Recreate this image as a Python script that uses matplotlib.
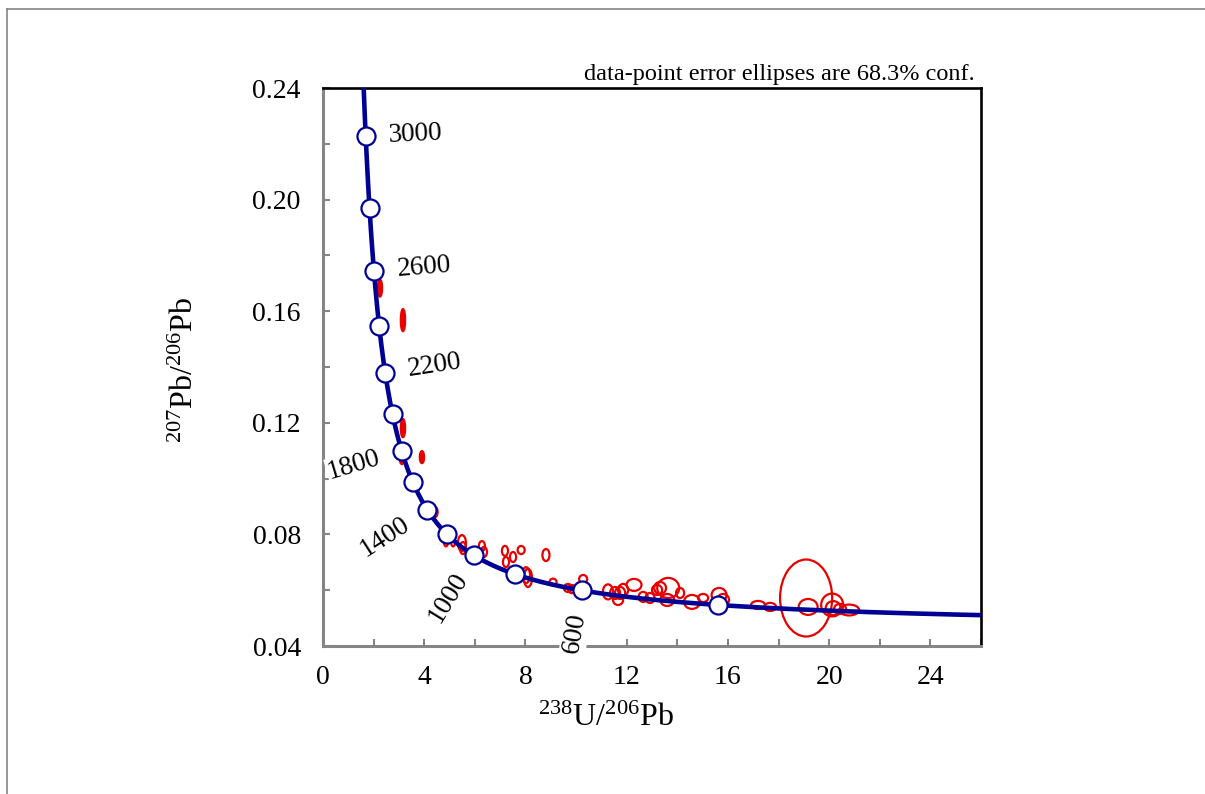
import numpy as np
import matplotlib
matplotlib.use("Agg")
import matplotlib.pyplot as plt
from matplotlib.patches import Ellipse
from matplotlib.lines import Line2D
from matplotlib.ticker import MultipleLocator, FixedLocator

plt.rcParams['font.family'] = ['Liberation Serif', 'DejaVu Serif']
plt.rcParams['mathtext.fontset'] = 'custom'
plt.rcParams['mathtext.rm'] = 'Liberation Serif'
plt.rcParams['mathtext.it'] = 'Liberation Serif:italic'

# decay constants (1/yr) and present-day 238U/235U
lambda238 = 1.55125e-10
lambda235 = 9.8485e-10
u_ratio = 137.88

# concordia age markers (Ma) and which of them get a label
marker_ages = [400, 600, 800, 1000, 1200, 1400, 1600, 1800, 2000, 2200, 2400, 2600, 2800, 3000]
label_ages = [600, 1000, 1400, 1800, 2200, 2600, 3000]
label_side = [-1, -1, -1, -1, 1, 1, 1]   # +1 right of curve, -1 left/below

# data-point error ellipses: centre, full width (238U/206Pb), full height (207Pb/206Pb)
ell_x = [2.25, 3.16, 3.16, 3.12, 3.91,
         4.43, 4.86, 5.14, 5.49, 5.53, 6.28, 6.36, 7.19, 7.23, 7.51, 7.83, 8.81, 8.02, 8.10,
         9.09, 9.68, 9.84, 10.28, 11.26, 11.54, 11.74, 11.86, 11.66, 12.29, 12.65, 12.92,
         13.20, 13.32, 13.64, 13.60, 14.11, 14.58, 15.02, 15.65, 15.81, 17.19, 17.67,
         19.09, 19.17, 20.12, 20.16, 20.43, 20.79]
ell_y = [0.1683, 0.1568, 0.1181, 0.1070, 0.1077,
         0.0880, 0.0773, 0.0773, 0.0769, 0.0751, 0.0758, 0.0737, 0.0741, 0.0701, 0.0719, 0.0744, 0.0726, 0.0654, 0.0644,
         0.0629, 0.0608, 0.0604, 0.0640, 0.0594, 0.0590, 0.0590, 0.0601, 0.0565, 0.0619, 0.0576, 0.0572,
         0.0601, 0.0608, 0.0608, 0.0565, 0.0590, 0.0558, 0.0572, 0.0583, 0.0565, 0.0547, 0.0540,
         0.0572, 0.0540, 0.0547, 0.0536, 0.0533, 0.0529]
ell_w = [0.17, 0.17, 0.17, 0.17, 0.17,
         0.20, 0.16, 0.16, 0.32, 0.24, 0.24, 0.24, 0.24, 0.24, 0.24, 0.28, 0.28, 0.32, 0.32,
         0.28, 0.32, 0.32, 0.32, 0.40, 0.40, 0.40, 0.40, 0.40, 0.59, 0.36, 0.36,
         0.40, 0.47, 0.87, 0.55, 0.32, 0.63, 0.40, 0.59, 0.47, 0.55, 0.47,
         2.06, 0.75, 0.87, 0.59, 0.47, 0.79]
ell_h = [0.0061, 0.0079, 0.0065, 0.0036, 0.0043,
         0.0036, 0.0032, 0.0032, 0.0057, 0.0043, 0.0036, 0.0036, 0.0036, 0.0036, 0.0036, 0.0029, 0.0043, 0.0057, 0.0065,
         0.0025, 0.0029, 0.0029, 0.0029, 0.0054, 0.0043, 0.0043, 0.0043, 0.0036, 0.0043, 0.0036, 0.0036,
         0.0036, 0.0043, 0.0072, 0.0043, 0.0036, 0.0050, 0.0029, 0.0050, 0.0043, 0.0029, 0.0029,
         0.0276, 0.0057, 0.0082, 0.0050, 0.0036, 0.0039]
ell_filled = [True] * 5 + [False] * (len(ell_x) - 5)

x_ticks = [0, 4, 8, 12, 16, 20, 24]
y_ticks = [0.04, 0.08, 0.12, 0.16, 0.20, 0.24]


def concordia(t_ma):
    t = np.asarray(t_ma, dtype=float) * 1e6
    e238 = np.exp(lambda238 * t) - 1
    e235 = np.exp(lambda235 * t) - 1
    return 1 / e238, e235 / e238 / u_ratio


blue = '#000094'
red = '#e60000'
grey = '#858585'

fig = plt.figure(figsize=(12.05, 7.94), dpi=100)
ax = fig.add_axes([323 / 1205, 1 - 646 / 794, 658 / 1205, 558 / 794])
ax.set_xlim(0, 26)
ax.set_ylim(0.04, 0.24)

# concordia curve
t_curve = np.linspace(230, 3300, 600)
cx, cy = concordia(t_curve)
ax.plot(cx, cy, color=blue, lw=3.3, zorder=3, solid_capstyle='butt')

# error ellipses
for x, y, w, h, f in zip(ell_x, ell_y, ell_w, ell_h, ell_filled):
    e = Ellipse((x, y), w, h, facecolor=red if f else 'none', edgecolor=red,
                lw=1.6, zorder=2)
    ax.add_patch(e)

# age markers
mx, my = concordia(marker_ages)
ax.plot(mx, my, 'o', ms=13, mfc='white', mec=blue, mew=1.6, zorder=4, ls='none')

# age labels placed along the normal to the curve
gap = 23
for age, side in zip(label_ages, label_side):
    p = ax.transData.transform(np.column_stack(concordia([age])))[0]
    p1 = ax.transData.transform(np.column_stack(concordia([age - 5])))[0]
    p2 = ax.transData.transform(np.column_stack(concordia([age + 5])))[0]
    d = p2 - p1
    n = np.array([d[1], -d[0]])
    n = n / np.hypot(*n)
    if np.sign(n[0]) != side:
        n = -n
    ang = np.degrees(np.arctan2(n[1], n[0]))
    if ang > 90:
        ang -= 180
    elif ang <= -90:
        ang += 180
    pos = ax.transData.inverted().transform(p + gap * n)
    ax.text(pos[0], pos[1], str(age), fontsize=19.5, rotation=ang, rotation_mode='anchor',
            ha='left' if side > 0 else 'right', va='center', zorder=5,
            bbox=dict(facecolor='white', edgecolor='none', pad=0.5))

# axes styling
for s in ['left', 'bottom']:
    ax.spines[s].set_color(grey)
    ax.spines[s].set_linewidth(2.2)
for s in ['top', 'right']:
    ax.spines[s].set_color('black')
    ax.spines[s].set_linewidth(1.9)

ax.xaxis.set_major_locator(FixedLocator(x_ticks))
ax.xaxis.set_minor_locator(MultipleLocator(2))
ax.yaxis.set_major_locator(FixedLocator(y_ticks))
ax.yaxis.set_minor_locator(MultipleLocator(0.02))
ax.set_xticklabels([str(v) for v in x_ticks])
ax.set_yticklabels([f'{v:.2f}' for v in y_ticks])
ax.tick_params(which='both', direction='in', length=5, width=1.5, color=grey,
               labelsize=20, top=False, right=False)
ax.tick_params(axis='x', which='major', pad=14)
ax.tick_params(axis='y', which='major', pad=16)

ax.set_xlabel(r'$^{\mathrm{238}}$U/$^{\mathrm{206}}$Pb', fontsize=23)
ax.xaxis.set_label_coords((606 - 323) / 658, (646 - 718) / 558)
ax.xaxis.label.set_verticalalignment('center')
ax.set_ylabel(r'$^{\mathrm{207}}$Pb/$^{\mathrm{206}}$Pb', fontsize=23)
ax.yaxis.set_label_coords((185 - 323) / 658, (646 - 370) / 558)
ax.yaxis.label.set_verticalalignment('center')

ax.text((975 - 323) / 658, 1.005, 'data-point error ellipses are 68.3% conf.',
        transform=ax.transAxes, ha='right', va='bottom', fontsize=17.5)

# outer frame lines of the original image
fig.add_artist(Line2D([7 / 1205, 1], [1 - 9 / 794] * 2, transform=fig.transFigure,
                      color=grey, lw=1.2))
fig.add_artist(Line2D([7 / 1205] * 2, [0, 1 - 9 / 794], transform=fig.transFigure,
                      color=grey, lw=1.2))

fig.savefig('out.png', dpi=100)
